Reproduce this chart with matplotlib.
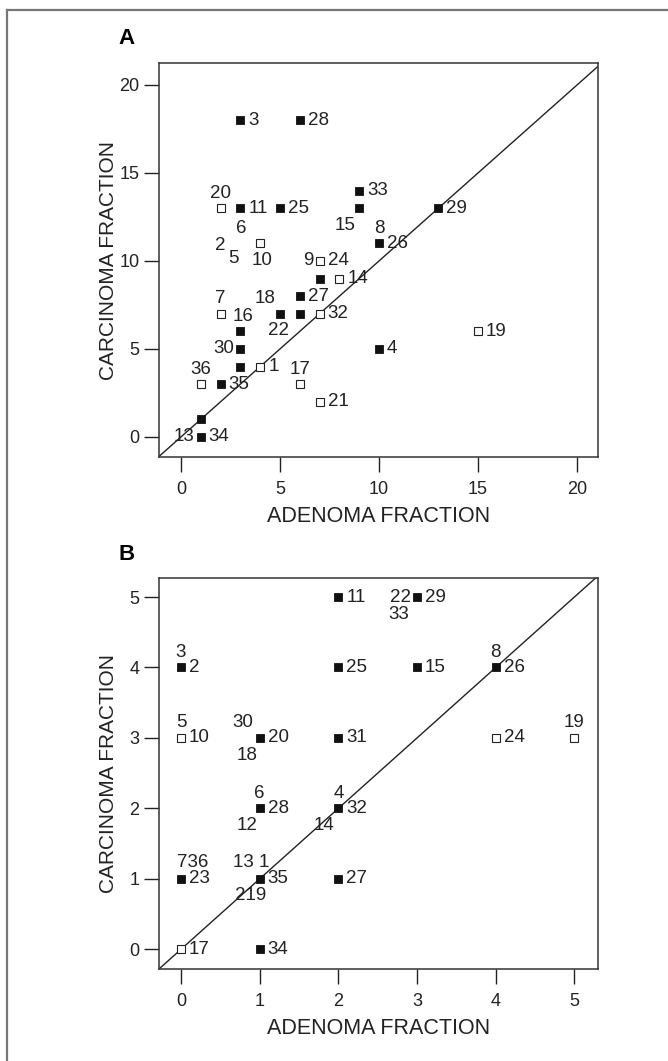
"""
Two-panel scatter: carcinoma fraction vs adenoma fraction per case,
filled squares / open squares, identity line, case numbers as labels.
"""
import matplotlib
matplotlib.use("Agg")
import matplotlib.pyplot as plt
from matplotlib.lines import Line2D

plt.rcParams["font.family"] = ["Liberation Sans", "DejaVu Sans"]

# ---- panel A data -------------------------------------------------------
a_x = [3, 6, 2, 3, 5, 9, 9, 4, 10, 7, 7, 8, 6, 2, 5, 6, 7, 3, 3, 3, 4, 1, 2, 6, 7, 10, 1, 1, 13, 15]
a_y = [18, 18, 13, 13, 13, 14, 13, 11, 11, 10, 9, 9, 8, 7, 7, 7, 7, 6, 5, 4, 4, 3, 3, 3, 2, 5, 1, 0, 13, 6]
a_filled = [1, 1, 0, 1, 1, 1, 1, 0, 1, 0, 1, 0, 1, 0, 1, 1, 0, 1, 1, 1, 0, 0, 1, 0, 0, 1, 1, 1, 1, 0]

# (text, anchor x, anchor y, placement)
a_labels = [
    ("3", 3, 18, "r"), ("28", 6, 18, "r"), ("20", 2, 13, "a"), ("11", 3, 13, "r"),
    ("6", 3, 13, (1, -20)), ("25", 5, 13, "r"), ("33", 9, 14, "r"), ("15", 9, 13, (-14, -17)),
    ("8", 10, 11, "a"), ("26", 10, 11, "r"), ("2", 4, 11, (-40, -2)), ("5", 4, 11, (-27, -15)),
    ("10", 4, 11, (2, -17)), ("9", 7, 10, "l"), ("24", 7, 10, "r"), ("14", 8, 9, "r"),
    ("27", 6, 8, "r"), ("7", 2, 7, "a"), ("18", 5, 7, (-15, 15)), ("22", 5, 7, (-1, -17)),
    ("32", 7, 7, "r"), ("16", 3, 6, (3, 15)), ("30", 3, 5, "l"), ("1", 4, 4, "r"),
    ("36", 1, 3, "a"), ("35", 2, 3, "r"), ("17", 6, 3, "a"), ("21", 7, 2, "r"),
    ("4", 10, 5, "r"), ("13", 1, 0, "l"), ("34", 1, 0, "r"), ("29", 13, 13, "r"),
    ("19", 15, 6, "r"),
]
a_ticks = [0, 5, 10, 15, 20]

# ---- panel B data -------------------------------------------------------
b_x = [2, 3, 0, 2, 3, 4, 0, 1, 2, 4, 5, 1, 2, 0, 1, 2, 0, 1]
b_y = [5, 5, 4, 4, 4, 4, 3, 3, 3, 3, 3, 2, 2, 1, 1, 1, 0, 0]
b_filled = [1, 1, 1, 1, 1, 1, 0, 1, 1, 0, 0, 1, 1, 1, 1, 1, 0, 1]

b_labels = [
    ("11", 2, 5, "r"), ("22", 3, 5, "l"), ("29", 3, 5, "r"), ("33", 3, 5, (-18, -17)),
    ("3", 0, 4, "a"), ("2", 0, 4, "r"), ("25", 2, 4, "r"), ("15", 3, 4, "r"),
    ("8", 4, 4, "a"), ("26", 4, 4, "r"), ("5", 0, 3, "a"), ("10", 0, 3, "r"),
    ("30", 1, 3, (-17, 15)), ("20", 1, 3, "r"), ("18", 1, 3, (-13, -18)), ("31", 2, 3, "r"),
    ("24", 4, 3, "r"), ("19", 5, 3, "a"), ("6", 1, 2, "a"), ("28", 1, 2, "r"),
    ("12", 1, 2, (-13, -17)), ("4", 2, 2, "a"), ("32", 2, 2, "r"), ("14", 2, 2, (-14, -17)),
    ("736", 0, 1, (12, 16)), ("23", 0, 1, "r"), ("13 1", 1, 1, (-9, 16)), ("35", 1, 1, "r"),
    ("219", 1, 1, (-9, -17)), ("27", 2, 1, "r"), ("17", 0, 0, "r"), ("34", 1, 0, "r"),
]
b_ticks = [0, 1, 2, 3, 4, 5]

# placement code -> (dx, dy) in pixels, ha
PLACE = {"r": ((8, 0), "left"), "l": ((-6, 0), "right"), "a": ((0, 15), "center")}

W, H = 668, 1061
fig = plt.figure(figsize=(W / 100, H / 100), dpi=100)


def panel(rect, xs, ys, filled, labels, ticks, xlim, ylim, tag):
    ax = fig.add_axes(rect)
    fx = [x for x, f in zip(xs, filled) if f]
    fy = [y for y, f in zip(ys, filled) if f]
    ox = [x for x, f in zip(xs, filled) if not f]
    oy = [y for y, f in zip(ys, filled) if not f]
    ax.axline((0, 0), (1, 1), color="#222222", lw=1.0, zorder=1)
    ax.plot(fx, fy, "s", ms=6.3, mfc="#111111", mec="#111111", mew=0.6, ls="none", zorder=3)
    ax.plot(ox, oy, "s", ms=5.7, mfc="white", mec="#222222", mew=0.8, ls="none", zorder=3)
    for text, x, y, where in labels:
        if isinstance(where, str):
            off, ha = PLACE[where]
        else:
            off, ha = where, "center"
        ax.annotate(text, (x, y), xytext=off, textcoords="offset pixels",
                    ha=ha, va="center", fontsize=13.5, color="#222222", zorder=4)
    ax.set_xlim(*xlim)
    ax.set_ylim(*ylim)
    ax.set_xticks(ticks)
    ax.set_yticks(ticks)
    ax.tick_params(direction="out", length=11, width=1.0,
                   labelsize=13, colors="#222222")
    ax.tick_params(axis="x", pad=6)
    ax.tick_params(axis="y", pad=3)
    for s in ax.spines.values():
        s.set_linewidth(1.1)
        s.set_color("#333333")
    h_px = rect[3] * H
    ax.set_xlabel("ADENOMA FRACTION", fontsize=15.5, color="#222222", va="center")
    ax.xaxis.set_label_coords(0.5, -59 / h_px)
    ax.set_ylabel("CARCINOMA FRACTION", fontsize=15, color="#222222", va="center")
    ax.yaxis.set_label_coords(-50 / (rect[2] * W), 0.5)
    fig.text(118 / W, rect[1] + rect[3] + 24 / H, tag, fontsize=16,
             fontweight="bold", ha="left", va="center")
    return ax


panel([159 / W, 1 - 457 / H, 439 / W, 394 / H], a_x, a_y, a_filled, a_labels,
      a_ticks, (-1.11, 21.06), (-1.14, 21.25), "A")
panel([159 / W, 1 - 969 / H, 439 / W, 391 / H], b_x, b_y, b_filled, b_labels,
      b_ticks, (-0.28, 5.3), (-0.28, 5.27), "B")

# outer frame (top and left edges only)
top = 1 - 10 / H
left = 7 / W
fig.add_artist(Line2D([left, 1], [top, top], color="#777777", lw=1.6))
fig.add_artist(Line2D([left, left], [0, top], color="#777777", lw=1.6))

fig.savefig("out.png", dpi=100)
